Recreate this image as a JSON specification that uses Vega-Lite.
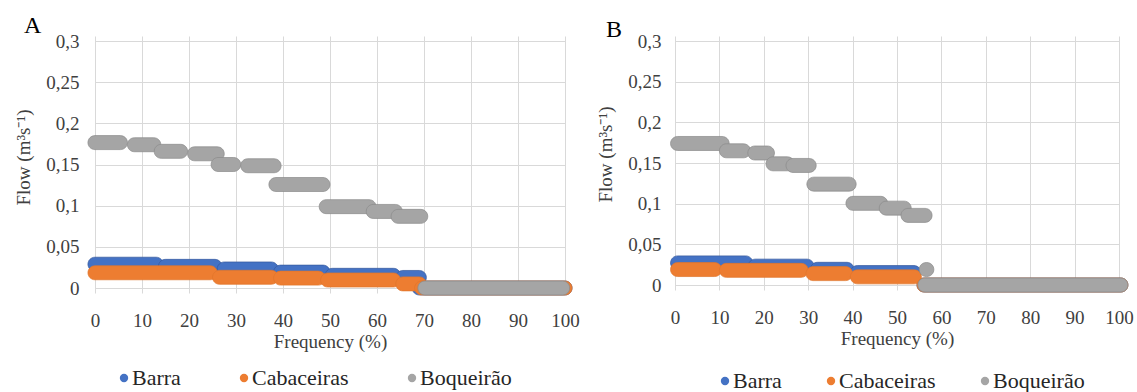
{
  "$schema": "https://vega.github.io/schema/vega-lite/v6.json",
  "padding": {"left": 13, "top": 14, "right": 5, "bottom": 0},
  "background": "white",
  "bounds": "flush",
  "spacing": 110,
  "datasets": {
    "panelA": [
      {"series": "Barra", "start": -1.5, "end": 14.5, "flow": 0.0289},
      {"series": "Barra", "start": 13.5, "end": 27, "flow": 0.0263},
      {"series": "Barra", "start": 26, "end": 39, "flow": 0.0231},
      {"series": "Barra", "start": 38, "end": 50, "flow": 0.0193},
      {"series": "Barra", "start": 49, "end": 65, "flow": 0.0154},
      {"series": "Barra", "start": 64, "end": 70.5, "flow": 0.0128},
      {"series": "Barra", "start": 67.5, "end": 101.5, "flow": 0},
      {"series": "Cabaceiras", "start": -1.5, "end": 26, "flow": 0.0185},
      {"series": "Cabaceiras", "start": 25, "end": 39, "flow": 0.013},
      {"series": "Cabaceiras", "start": 38, "end": 49, "flow": 0.012},
      {"series": "Cabaceiras", "start": 48, "end": 65, "flow": 0.0097},
      {"series": "Cabaceiras", "start": 64, "end": 70.5, "flow": 0.005},
      {"series": "Cabaceiras", "start": 68, "end": 101.5, "flow": 0},
      {"series": "Boqueirão", "start": -1.5, "end": 6.9, "flow": 0.1766},
      {"series": "Boqueirão", "start": 6.9, "end": 14, "flow": 0.174},
      {"series": "Boqueirão", "start": 12.6, "end": 19.7, "flow": 0.166},
      {"series": "Boqueirão", "start": 19.7, "end": 27.5, "flow": 0.163},
      {"series": "Boqueirão", "start": 24.7, "end": 31, "flow": 0.15},
      {"series": "Boqueirão", "start": 31, "end": 39.6, "flow": 0.1485},
      {"series": "Boqueirão", "start": 37, "end": 50, "flow": 0.1257},
      {"series": "Boqueirão", "start": 47.7, "end": 59.8, "flow": 0.0988},
      {"series": "Boqueirão", "start": 57.7, "end": 65.4, "flow": 0.093},
      {"series": "Boqueirão", "start": 63, "end": 70.8, "flow": 0.087},
      {"series": "Boqueirão", "start": 68.7, "end": 101, "flow": 0}
    ],
    "panelB": [
      {"series": "Barra", "start": -1, "end": 17.5, "flow": 0.0272},
      {"series": "Barra", "start": 16.5, "end": 31.3, "flow": 0.0232},
      {"series": "Barra", "start": 30.5, "end": 40.3, "flow": 0.0193},
      {"series": "Barra", "start": 39.5, "end": 55.4, "flow": 0.0153},
      {"series": "Barra", "start": 54.5, "end": 102, "flow": 0},
      {"series": "Cabaceiras", "start": -1, "end": 10.5, "flow": 0.019},
      {"series": "Cabaceiras", "start": 10, "end": 30, "flow": 0.018},
      {"series": "Cabaceiras", "start": 29.5, "end": 40, "flow": 0.014},
      {"series": "Cabaceiras", "start": 39.5, "end": 55.5, "flow": 0.01},
      {"series": "Cabaceiras", "start": 54.5, "end": 102, "flow": 0},
      {"series": "Boqueirão", "start": -1, "end": 12.2, "flow": 0.174},
      {"series": "Boqueirão", "start": 10, "end": 17, "flow": 0.165},
      {"series": "Boqueirão", "start": 16.4, "end": 22.4, "flow": 0.1623},
      {"series": "Boqueirão", "start": 20.5, "end": 26.9, "flow": 0.149},
      {"series": "Boqueirão", "start": 25, "end": 31.8, "flow": 0.147},
      {"series": "Boqueirão", "start": 29.7, "end": 40.8, "flow": 0.124},
      {"series": "Boqueirão", "start": 38.5, "end": 47.9, "flow": 0.1004},
      {"series": "Boqueirão", "start": 46, "end": 53.2, "flow": 0.0945},
      {"series": "Boqueirão", "start": 50.9, "end": 57.9, "flow": 0.0856},
      {"series": "Boqueirão", "start": 55, "end": 58.3, "flow": 0.019},
      {"series": "Boqueirão", "start": 54.7, "end": 102, "flow": 0}
    ]
  },
  "hconcat": [
    {
      "title": {"text": "A", "anchor": "start", "frame": "group", "dx": -71, "offset": -25, "fontSize": 24, "font": "Liberation Serif", "fontWeight": "normal", "color": "#000000", "baseline": "alphabetic"},
      "width": 470,
      "height": 257,
      "data": {"name": "panelA"},
      "mark": {"type": "bar", "size": 14, "cornerRadius": 7, "strokeWidth": 1, "strokeOpacity": 0.7},
      "encoding": {
        "x": {"field": "start", "type": "quantitative", "scale": {"domain": [0, 100], "nice": false},
              "axis": {"title": "Frequency (%)", "values": [0, 10, 20, 30, 40, 50, 60, 70, 80, 90, 100], "labelPadding": 18, "titlePadding": 2,
                       "labelFont": "Liberation Serif", "titleFont": "Liberation Serif"}},
        "x2": {"field": "end"},
        "y": {"field": "flow", "type": "quantitative", "scale": {"domain": [0, 0.3], "nice": false},
              "axis": {"title": "Flow (m³s⁻¹)", "values": [0, 0.05, 0.1, 0.15, 0.2, 0.25, 0.3], "labelPadding": 16,
                       "labelFont": "Liberation Serif", "titleFont": "Liberation Serif",
                       "labelExpr": "replace(format(datum.value, '.2~f'), '.', ',')",
                       "titleX": -72, "titleY": 121, "titleAlign": "center", "titleBaseline": "middle"}},
        "color": {"field": "series", "type": "nominal",
                  "scale": {"domain": ["Barra", "Cabaceiras", "Boqueirão"], "range": ["#4472C4", "#ED7D31", "#A5A5A5"]},
                  "legend": {"orient": "none", "legendX": 18, "legendY": 331, "direction": "horizontal", "title": null, "columnPadding": 52,
                             "labelFont": "Liberation Serif", "labelFontSize": 22, "labelOffset": -3}},
        "stroke": {"field": "series", "type": "nominal",
                   "scale": {"domain": ["Barra", "Cabaceiras", "Boqueirão"], "range": ["#34589c", "#e0752b", "#8a8a8a"]},
                   "legend": null}
      }
    },
    {
      "title": {"text": "B", "anchor": "start", "frame": "group", "dx": -69, "offset": -29, "fontSize": 24, "font": "Liberation Serif", "fontWeight": "normal", "color": "#000000", "baseline": "alphabetic"},
      "width": 444,
      "height": 254,
      "data": {"name": "panelB"},
      "mark": {"type": "bar", "size": 14, "cornerRadius": 7, "strokeWidth": 1, "strokeOpacity": 0.7},
      "encoding": {
        "x": {"field": "start", "type": "quantitative", "scale": {"domain": [0, 100], "nice": false},
              "axis": {"title": "Frequency (%)", "values": [0, 10, 20, 30, 40, 50, 60, 70, 80, 90, 100], "labelPadding": 18, "titlePadding": 2,
                       "labelFont": "Liberation Serif", "titleFont": "Liberation Serif"}},
        "x2": {"field": "end"},
        "y": {"field": "flow", "type": "quantitative", "scale": {"domain": [0, 0.3], "nice": false},
              "axis": {"title": "Flow (m³s⁻¹)", "values": [0, 0.05, 0.1, 0.15, 0.2, 0.25, 0.3], "labelPadding": 14,
                       "labelFont": "Liberation Serif", "titleFont": "Liberation Serif",
                       "labelExpr": "replace(format(datum.value, '.2~f'), '.', ',')",
                       "titleX": -70, "titleY": 118, "titleAlign": "center", "titleBaseline": "middle"}},
        "color": {"field": "series", "type": "nominal",
                  "scale": {"domain": ["Barra", "Cabaceiras", "Boqueirão"], "range": ["#4472C4", "#ED7D31", "#A5A5A5"]},
                  "legend": {"orient": "none", "legendX": 39, "legendY": 334, "direction": "horizontal", "title": null, "columnPadding": 38,
                             "labelFont": "Liberation Serif", "labelFontSize": 22, "labelOffset": -3}},
        "stroke": {"field": "series", "type": "nominal",
                   "scale": {"domain": ["Barra", "Cabaceiras", "Boqueirão"], "range": ["#34589c", "#e0752b", "#8a8a8a"]},
                   "legend": null}
      }
    }
  ],
  "resolve": {
    "scale": {"color": "independent", "stroke": "independent", "x": "independent", "y": "independent"},
    "legend": {"color": "independent"},
    "axis": {"x": "independent", "y": "independent"}
  },
  "config": {
    "font": "Liberation Serif",
    "view": {"stroke": null},
    "axis": {
      "grid": true, "gridColor": "#d9d9d9", "gridWidth": 1, "domain": false, "ticks": false,
      "labelFontSize": 19, "labelColor": "#404040", "labelFlush": false,
      "titleFontSize": 19, "titleFontWeight": "normal", "titleColor": "#404040"
    },
    "legend": {
      "symbolType": "circle", "symbolSize": 70, "symbolStrokeWidth": 0,
      "labelColor": "#262626", "padding": 0
    }
  }
}
